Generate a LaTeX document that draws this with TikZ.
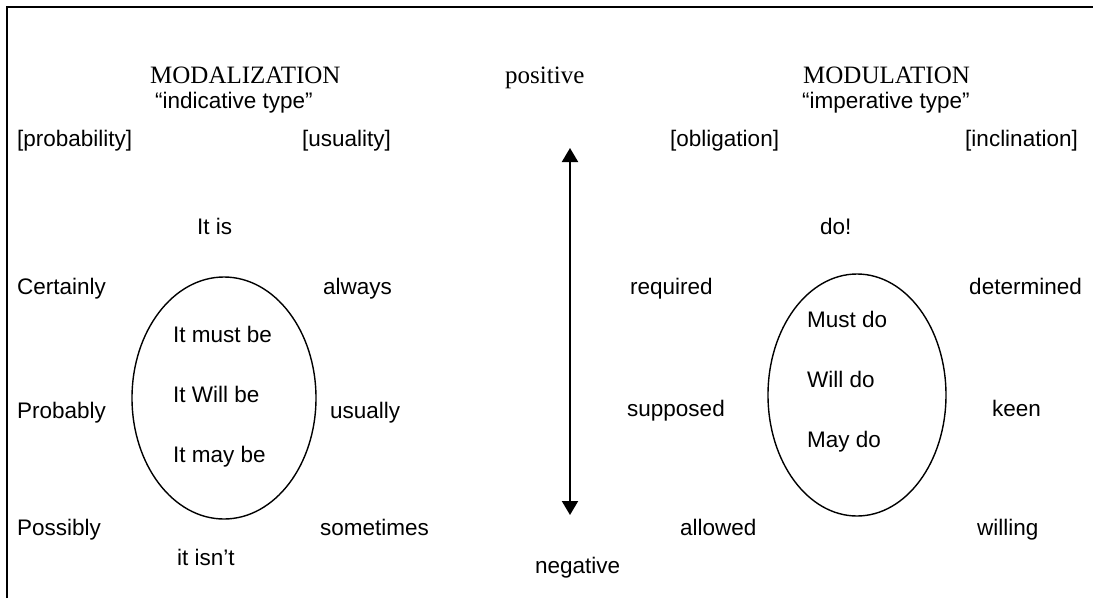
\documentclass[tikz,border=0pt]{standalone}
\usepackage{fontspec}
\setmainfont{Liberation Sans}
\newfontfamily\serifttl{Liberation Serif}
\usetikzlibrary{arrows.meta}
\tikzset{
  lbl/.style={anchor=base west, inner sep=0pt, font=\fontsize{22.5}{27}\selectfont},
  lblr/.style={lbl, anchor=base east},
  ttl/.style={anchor=base west, inner sep=0pt, font=\serifttl\fontsize{25}{30}\selectfont},
  oval/.style={line width=1.4pt},
  axis/.style={line width=2pt, {Triangle[length=14pt,width=16pt]}-{Triangle[length=14pt,width=16pt]}},
  frame/.style={line width=1.8pt}
}
\begin{document}
\begin{tikzpicture}[x=1pt,y=-1pt]
\useasboundingbox (0,0) rectangle (1093,598);
\fill[white] (0,0) rectangle (1093,598);
\draw[frame] (7,598) -- (7,7) -- (1093,7);
% titles
\node[ttl] (modz) at (150,83) {MODALIZATION};
\node[lbl] (indt) at (155,108) {“indicative type”};
\node[ttl] (pos) at (505,83) {positive};
\node[ttl] (modu) at (803,83) {MODULATION};
\node[lbl] (impt) at (802,108) {“imperative type”};
% headers
\node[lbl] (prob) at (17,146) {[probability]};
\node[lbl] (usu) at (302,146) {[usuality]};
\node[lbl] (obl) at (670,146) {[obligation]};
\node[lblr] (incl) at (1078,146) {[inclination]};
% polar positive
\node[lbl] (itis) at (197,234) {It is};
\node[lbl] (do) at (820,234) {do!};
% row 1
\node[lbl] (cert) at (17,294) {Certainly};
\node[lbl] (alw) at (323,294) {always};
\node[lbl] (req) at (630,294) {required};
\node[lblr] (det) at (1082,294) {determined};
% row 2
\node[lbl] (prbl) at (17,418) {Probably};
\node[lbl] (usl) at (330,418) {usually};
\node[lbl] (sup) at (627,416) {supposed};
\node[lbl] (keen) at (992,416) {keen};
% row 3
\node[lbl] (poss) at (17,535) {Possibly};
\node[lbl] (some) at (320,535) {sometimes};
\node[lbl] (allw) at (680,535) {allowed};
\node[lbl] (will) at (977,535) {willing};
% polar negative
\node[lbl] (isnt) at (177,565) {it isn’t};
\node[lbl] (neg) at (535,573) {negative};
% left oval
\draw[oval] (224,398) ellipse [x radius=92, y radius=121];
\node[lbl] (must) at (173,342) {It must be};
\node[lbl] (willb) at (173,402) {It Will be};
\node[lbl] (may) at (173,462) {It may be};
% right oval
\draw[oval] (857,395) ellipse [x radius=89, y radius=121];
\node[lbl] (mdo) at (807,327) {Must do};
\node[lbl] (wdo) at (807,387) {Will do};
\node[lbl] (ydo) at (807,447) {May do};
% axis
\coordinate (atop) at (570,148);
\coordinate (abot) at (570,515);
\draw[axis] (atop) -- (abot);
\end{tikzpicture}
\end{document}
